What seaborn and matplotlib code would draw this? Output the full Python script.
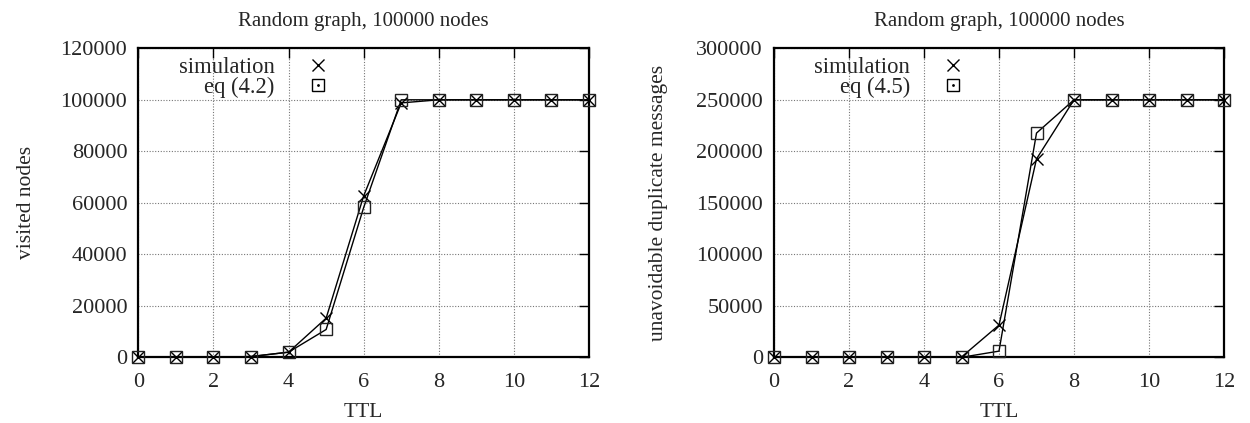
import matplotlib
matplotlib.use("Agg")
import matplotlib.pyplot as plt
from matplotlib.lines import Line2D
from matplotlib.ticker import MultipleLocator, FormatStrFormatter
import seaborn as sns
import pandas as pd

# TTL values (hops)
ttl = [0, 1, 2, 3, 4, 5, 6, 7, 8, 9, 10, 11, 12]

# Visited nodes
visited_sim = [0, 0, 0, 300, 2000, 15200, 62700, 98800, 100000, 100000, 100000, 100000, 100000]
visited_eq = [0, 0, 0, 300, 2000, 10800, 58200, 100000, 100000, 100000, 100000, 100000, 100000]

# Unavoidable duplicate messages
dup_sim = [0, 0, 0, 0, 0, 300, 31300, 192600, 250000, 250000, 250000, 250000, 250000]
dup_eq = [0, 0, 0, 0, 0, 0, 6000, 217700, 250000, 250000, 250000, 250000, 250000]

title = "Random graph, 100000 nodes"
x_label = "TTL"
left_ylabel = "visited nodes"
right_ylabel = "unavoidable duplicate messages"
left_eq_label = "eq (4.2)"
right_eq_label = "eq (4.5)"
sim_label = "simulation"

sns.set_theme(style="white")
plt.rcParams["font.family"] = ["Liberation Serif", "DejaVu Serif"]
plt.rcParams["font.size"] = 15

TICK_FS = 16
LEGEND_FS = 16.3
LABEL_FS = 15.5
TITLE_FS = 15

fig = plt.figure(figsize=(12.5, 4.23), dpi=100)
ax1 = fig.add_axes([0.1107, 0.1553, 0.3605, 0.7305])
ax2 = fig.add_axes([0.6192, 0.1553, 0.3600, 0.7305])


def draw_panel(ax, sim, eq, eq_label, ylabel, ymax, ystep, ylabelpad):
    df_sim = pd.DataFrame({"TTL": ttl, "value": sim})
    df_eq = pd.DataFrame({"TTL": ttl, "value": eq})
    sns.lineplot(data=df_sim, x="TTL", y="value", ax=ax, color="black", lw=1.0,
                 marker="x", markersize=9, markeredgewidth=1.0, markeredgecolor="black",
                 clip_on=False, zorder=5)
    sns.lineplot(data=df_eq, x="TTL", y="value", ax=ax, color="black", lw=1.0,
                 marker="s", markersize=9, markeredgewidth=1.0, markerfacecolor="none",
                 markeredgecolor="#222222", clip_on=False, zorder=5)

    ax.set_xlim(0, 12)
    ax.set_ylim(0, ymax)
    ax.xaxis.set_major_locator(MultipleLocator(2))
    ax.yaxis.set_major_locator(MultipleLocator(ystep))
    ax.yaxis.set_major_formatter(FormatStrFormatter("%d"))

    ax.grid(True, linestyle=(0, (1, 1.5)), color="#777777", lw=0.8)
    ax.tick_params(direction="in", top=True, right=True, length=7, width=1.0,
                   color="black", labelsize=TICK_FS)
    ax.tick_params(axis="x", pad=11)
    ax.tick_params(axis="y", pad=8)
    for sp in ax.spines.values():
        sp.set_visible(True)
        sp.set_color("black")
        sp.set_linewidth(1.6)

    ax.set_title(title, fontsize=TITLE_FS, pad=16)
    ax.set_xlabel(x_label, fontsize=LABEL_FS, labelpad=8)
    ax.set_ylabel(ylabel, fontsize=LABEL_FS, labelpad=ylabelpad)

    h_sim = Line2D([], [], linestyle="none", marker="x", markersize=9,
                   markeredgewidth=1.0, color="black")
    h_box = Line2D([], [], linestyle="none", marker="s", markersize=9,
                   markeredgewidth=1.0, markerfacecolor="none", markeredgecolor="black")
    h_dot = Line2D([], [], linestyle="none", marker=".", markersize=2, color="black")
    ax.legend(handles=[h_sim, (h_box, h_dot)], labels=[sim_label, eq_label],
              loc="upper right", bbox_to_anchor=(0.463, 1.001), frameon=False,
              markerfirst=False, handlelength=1.8, handletextpad=1.0,
              labelspacing=-0.04, borderaxespad=0.0, fontsize=LEGEND_FS)


draw_panel(ax1, visited_sim, visited_eq, left_eq_label, left_ylabel, 120000, 20000, 18)
draw_panel(ax2, dup_sim, dup_eq, right_eq_label, right_ylabel, 300000, 50000, 20)

fig.savefig("out.png", dpi=100)
